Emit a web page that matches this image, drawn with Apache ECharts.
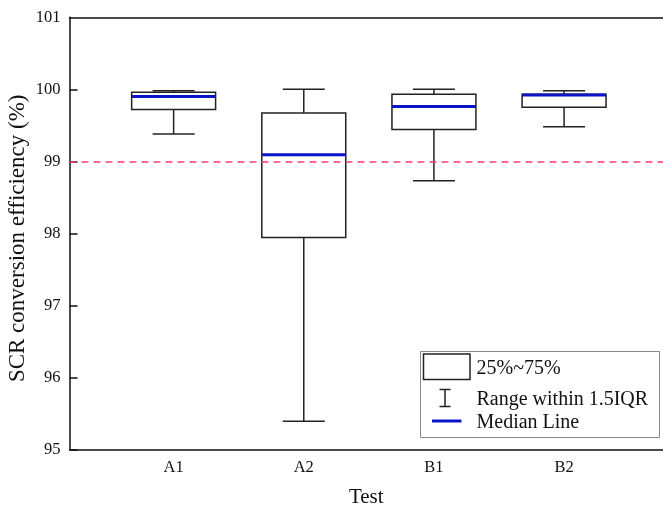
<!DOCTYPE html>
<html>
<head>
<meta charset="utf-8">
<title>SCR conversion efficiency</title>
<script src="https://cdn.jsdelivr.net/npm/echarts@6/dist/echarts.min.js"></script>
<style>
  html, body { margin: 0; padding: 0; background: #fff; }
  #chart { width: 663px; height: 508px; }
</style>
</head>
<body>
<div id="chart"></div>
<script>
// Box statistics per test (SCR conversion efficiency, %)
const categories = ['A1', 'A2', 'B1', 'B2'];
const whiskerLow = [99.38, 95.39, 98.73, 99.48];
const quartile1 = [99.72, 97.94, 99.44, 99.75];
const medians = [99.90, 99.09, 99.76, 99.92];
const quartile3 = [99.96, 99.67, 99.93, 99.93];
const whiskerHigh = [99.98, 100.00, 100.00, 99.98];
const targetLine = 99;
const yTicks = [95, 96, 97, 98, 99, 100, 101];

const FONT = '"Liberation Serif", "Times New Roman", serif';
const BOX_W = 0.645;   // box width in x-axis units
const CAP_W = 0.3227;  // whisker cap width in x-axis units
const EDGE = '#222';
const MEDIAN = '#0a14c8';

const rows = categories.map((c, i) => [i + 1, whiskerLow[i], quartile1[i], medians[i], quartile3[i], whiskerHigh[i]]);

function renderBox(params, api) {
  const x = api.value(0);
  const lo = api.coord([x, api.value(1)]);
  const q1 = api.coord([x, api.value(2)]);
  const md = api.coord([x, api.value(3)]);
  const q3 = api.coord([x, api.value(4)]);
  const hi = api.coord([x, api.value(5)]);
  const bw = api.size([BOX_W, 0])[0];
  const cw = api.size([CAP_W, 0])[0];
  const cx = lo[0];
  const line = (x1, y1, x2, y2, color, w) => ({
    type: 'line',
    shape: { x1, y1, x2, y2 },
    style: { stroke: color, lineWidth: w }
  });
  return {
    type: 'group',
    children: [
      line(cx, q3[1], cx, hi[1], EDGE, 1.5),
      line(cx, q1[1], cx, lo[1], EDGE, 1.5),
      line(cx - cw / 2, hi[1], cx + cw / 2, hi[1], EDGE, 1.5),
      line(cx - cw / 2, lo[1], cx + cw / 2, lo[1], EDGE, 1.5),
      {
        type: 'rect',
        shape: { x: cx - bw / 2, y: q3[1], width: bw, height: q1[1] - q3[1] },
        style: { fill: '#fff', stroke: EDGE, lineWidth: 1.5 }
      },
      line(cx - bw / 2, md[1], cx + bw / 2, md[1], MEDIAN, 3)
    ]
  };
}

const chart = echarts.init(document.getElementById('chart'), null, { renderer: 'canvas' });

const legendX = 420.5, legendY = 351.5;
chart.setOption({
  animation: false,
  backgroundColor: '#fff',
  grid: { left: 69.5, top: 17.3, right: 0, bottom: 58.7, outerBoundsMode: 'none', containLabel: false },
  xAxis: [{
    type: 'value',
    min: 0.2,
    max: 4.76,
    name: 'Test',
    nameLocation: 'middle',
    nameGap: 38,
    nameMoveOverlap: false,
    nameTextStyle: { fontFamily: FONT, fontSize: 21, color: '#111' },
    splitLine: { show: false },
    axisTick: { show: false },
    axisLine: { show: true, lineStyle: { color: '#111', width: 1.5 } },
    axisLabel: {
      customValues: categories.map((c, i) => i + 1),
      formatter: v => categories[Math.round(v) - 1] || '',
      fontFamily: FONT, fontSize: 16.5, color: '#111', margin: 10
    }
  }, {
    type: 'value',
    position: 'top',
    min: 0.2,
    max: 4.76,
    splitLine: { show: false },
    axisTick: { show: false },
    axisLabel: { show: false },
    axisLine: { show: true, lineStyle: { color: '#111', width: 1.5 } }
  }],
  yAxis: {
    type: 'value',
    min: 95,
    max: 101,
    interval: 1,
    name: 'SCR conversion efficiency (%)',
    nameLocation: 'middle',
    nameGap: 40,
    nameMoveOverlap: false,
    nameTextStyle: { fontFamily: FONT, fontSize: 23, color: '#111', padding: [0, 10, 0, 0] },
    splitLine: { show: false },
    axisLine: { show: true, lineStyle: { color: '#111', width: 1.5 } },
    axisTick: { show: true, inside: true, length: 8, lineStyle: { color: '#111', width: 1.5 },
      customValues: yTicks.slice(0, -1) },
    axisLabel: { customValues: yTicks, fontFamily: FONT, fontSize: 16.5, color: '#111', margin: 9 }
  },
  series: [{
    type: 'custom',
    renderItem: renderBox,
    data: rows,
    encode: { x: 0, y: [1, 2, 3, 4, 5] },
    z: 3,
    markLine: {
      silent: true,
      symbol: 'none',
      label: { show: false },
      lineStyle: { color: '#ff3d6e', type: [7, 5], width: 1.5 },
      data: [{ yAxis: targetLine }]
    }
  }],
  graphic: [{
    type: 'group',
    z: 10,
    children: [
      { type: 'rect', shape: { x: legendX, y: legendY, width: 239, height: 86 },
        style: { fill: '#fff', stroke: '#888', lineWidth: 1 } },
      { type: 'rect', shape: { x: legendX + 3, y: legendY + 2.5, width: 46.5, height: 25.5 },
        style: { fill: '#fff', stroke: EDGE, lineWidth: 1.5 } },
      { type: 'text', x: legendX + 56, y: legendY + 17,
        style: { text: '25%~75%', fontFamily: FONT, fontSize: 20, fill: '#111', verticalAlign: 'middle' } },
      { type: 'line', shape: { x1: legendX + 24.5, y1: legendY + 38, x2: legendX + 24.5, y2: legendY + 55 },
        style: { stroke: EDGE, lineWidth: 1.5 } },
      { type: 'line', shape: { x1: legendX + 19, y1: legendY + 38, x2: legendX + 30, y2: legendY + 38 },
        style: { stroke: EDGE, lineWidth: 1.5 } },
      { type: 'line', shape: { x1: legendX + 19, y1: legendY + 55, x2: legendX + 30, y2: legendY + 55 },
        style: { stroke: EDGE, lineWidth: 1.5 } },
      { type: 'text', x: legendX + 56, y: legendY + 48,
        style: { text: 'Range within 1.5IQR', fontFamily: FONT, fontSize: 20, fill: '#111', verticalAlign: 'middle' } },
      { type: 'line', shape: { x1: legendX + 11.5, y1: legendY + 69.5, x2: legendX + 41, y2: legendY + 69.5 },
        style: { stroke: MEDIAN, lineWidth: 3 } },
      { type: 'text', x: legendX + 56, y: legendY + 71.5,
        style: { text: 'Median Line', fontFamily: FONT, fontSize: 20, fill: '#111', verticalAlign: 'middle' } }
    ]
  }]
});
</script>
</body>
</html>
